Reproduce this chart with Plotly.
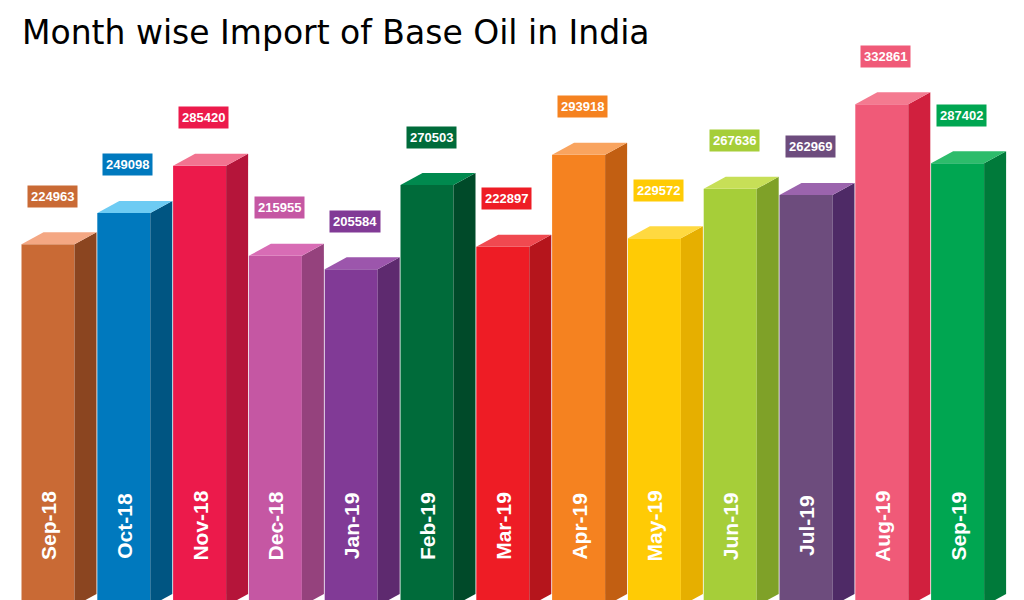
import plotly.graph_objects as go

months = ["Sep-18", "Oct-18", "Nov-18", "Dec-18", "Jan-19", "Feb-19", "Mar-19",
          "Apr-19", "May-19", "Jun-19", "Jul-19", "Aug-19", "Sep-19"]
imports = [224963, 249098, 285420, 215955, 205584, 270503, 222897,
           293918, 229572, 267636, 262969, 332861, 287402]

front = ["#C96A35", "#0079BE", "#EC1A4B", "#C557A3", "#813A96", "#006B3A", "#EE1C25",
         "#F58220", "#FFCB05", "#A6CE39", "#6D4C7D", "#F05A78", "#00A651"]
side = ["#8B4520", "#005582", "#B5153A", "#95427D", "#5E2A6F", "#004A29", "#B5151C",
        "#C25F12", "#E6AF00", "#7FA128", "#4E2A66", "#D1203E", "#007A3A"]
top = ["#F4A783", "#6DCBF3", "#F27390", "#D86CB5", "#9C56AC", "#00894E", "#F04950",
       "#F9A45F", "#FFD940", "#C7DF57", "#9B64AD", "#F47A90", "#2DBC6B"]

floor = -54000
px = 0.001297          # pixels per unit on y
w = 53                 # front width (x units = pixels)
dx = 22
dy = 12 / px
pad = 8                # page body margin

centers = [48 + 75.8 * i for i in range(len(months))]

fig = go.Figure()
fig.add_shape(type="rect", x0=20, x1=1005, y0=floor - 10 / px, y1=floor,
              fillcolor="#C8CCCF", line_width=0, layer="below")

for c, v, s, t in zip(centers, imports, side, top):
    x0, x1 = c - w / 2, c + w / 2
    fig.add_trace(go.Scatter(x=[x1, x1, x1 + dx, x1 + dx, x1], y=[floor, v, v + dy, floor + dy, floor],
                             fill="toself", fillcolor=s, line_width=0, mode="lines", hoverinfo="skip"))
    fig.add_trace(go.Scatter(x=[x0, x0 + dx, x1 + dx, x1, x0], y=[v, v + dy, v + dy, v, v],
                             fill="toself", fillcolor=t, line_width=0, mode="lines", hoverinfo="skip"))

fig.add_trace(go.Bar(x=centers, y=[v - floor for v in imports], base=floor, width=w,
                     marker=dict(color=front, line_width=0), hoverinfo="skip"))

for c, v, m, col in zip(centers, imports, months, front):
    fig.add_annotation(x=c + 4, y=v + 48 / px, text="<b>" + str(v) + "</b>", showarrow=False,
                       font=dict(family="Liberation Sans", size=13, color="white"),
                       bgcolor=col, borderpad=3)
    fig.add_annotation(x=c, y=floor + 80 / px, text="<b>" + m + "</b>", showarrow=False,
                       textangle=-90, font=dict(family="Liberation Sans", size=21, color="white"))

fig.add_annotation(xref="paper", yref="paper", x=(20 - pad) / 1024, y=1 - (32 - pad) / 600,
                   text="Month wise Import of Base Oil in India",
                   showarrow=False, xanchor="left", yanchor="middle",
                   font=dict(family="DejaVu Sans", size=33, color="black"))

fig.update_layout(width=1024, height=600, margin=dict(l=0, r=0, t=0, b=0),
                  plot_bgcolor="white", paper_bgcolor="white", showlegend=False,
                  xaxis=dict(range=[pad, 1024 + pad], visible=False),
                  yaxis=dict(range=[floor - (10 - pad) / px, floor + (590 + pad) / px], visible=False))
fig.write_html("out.html")
